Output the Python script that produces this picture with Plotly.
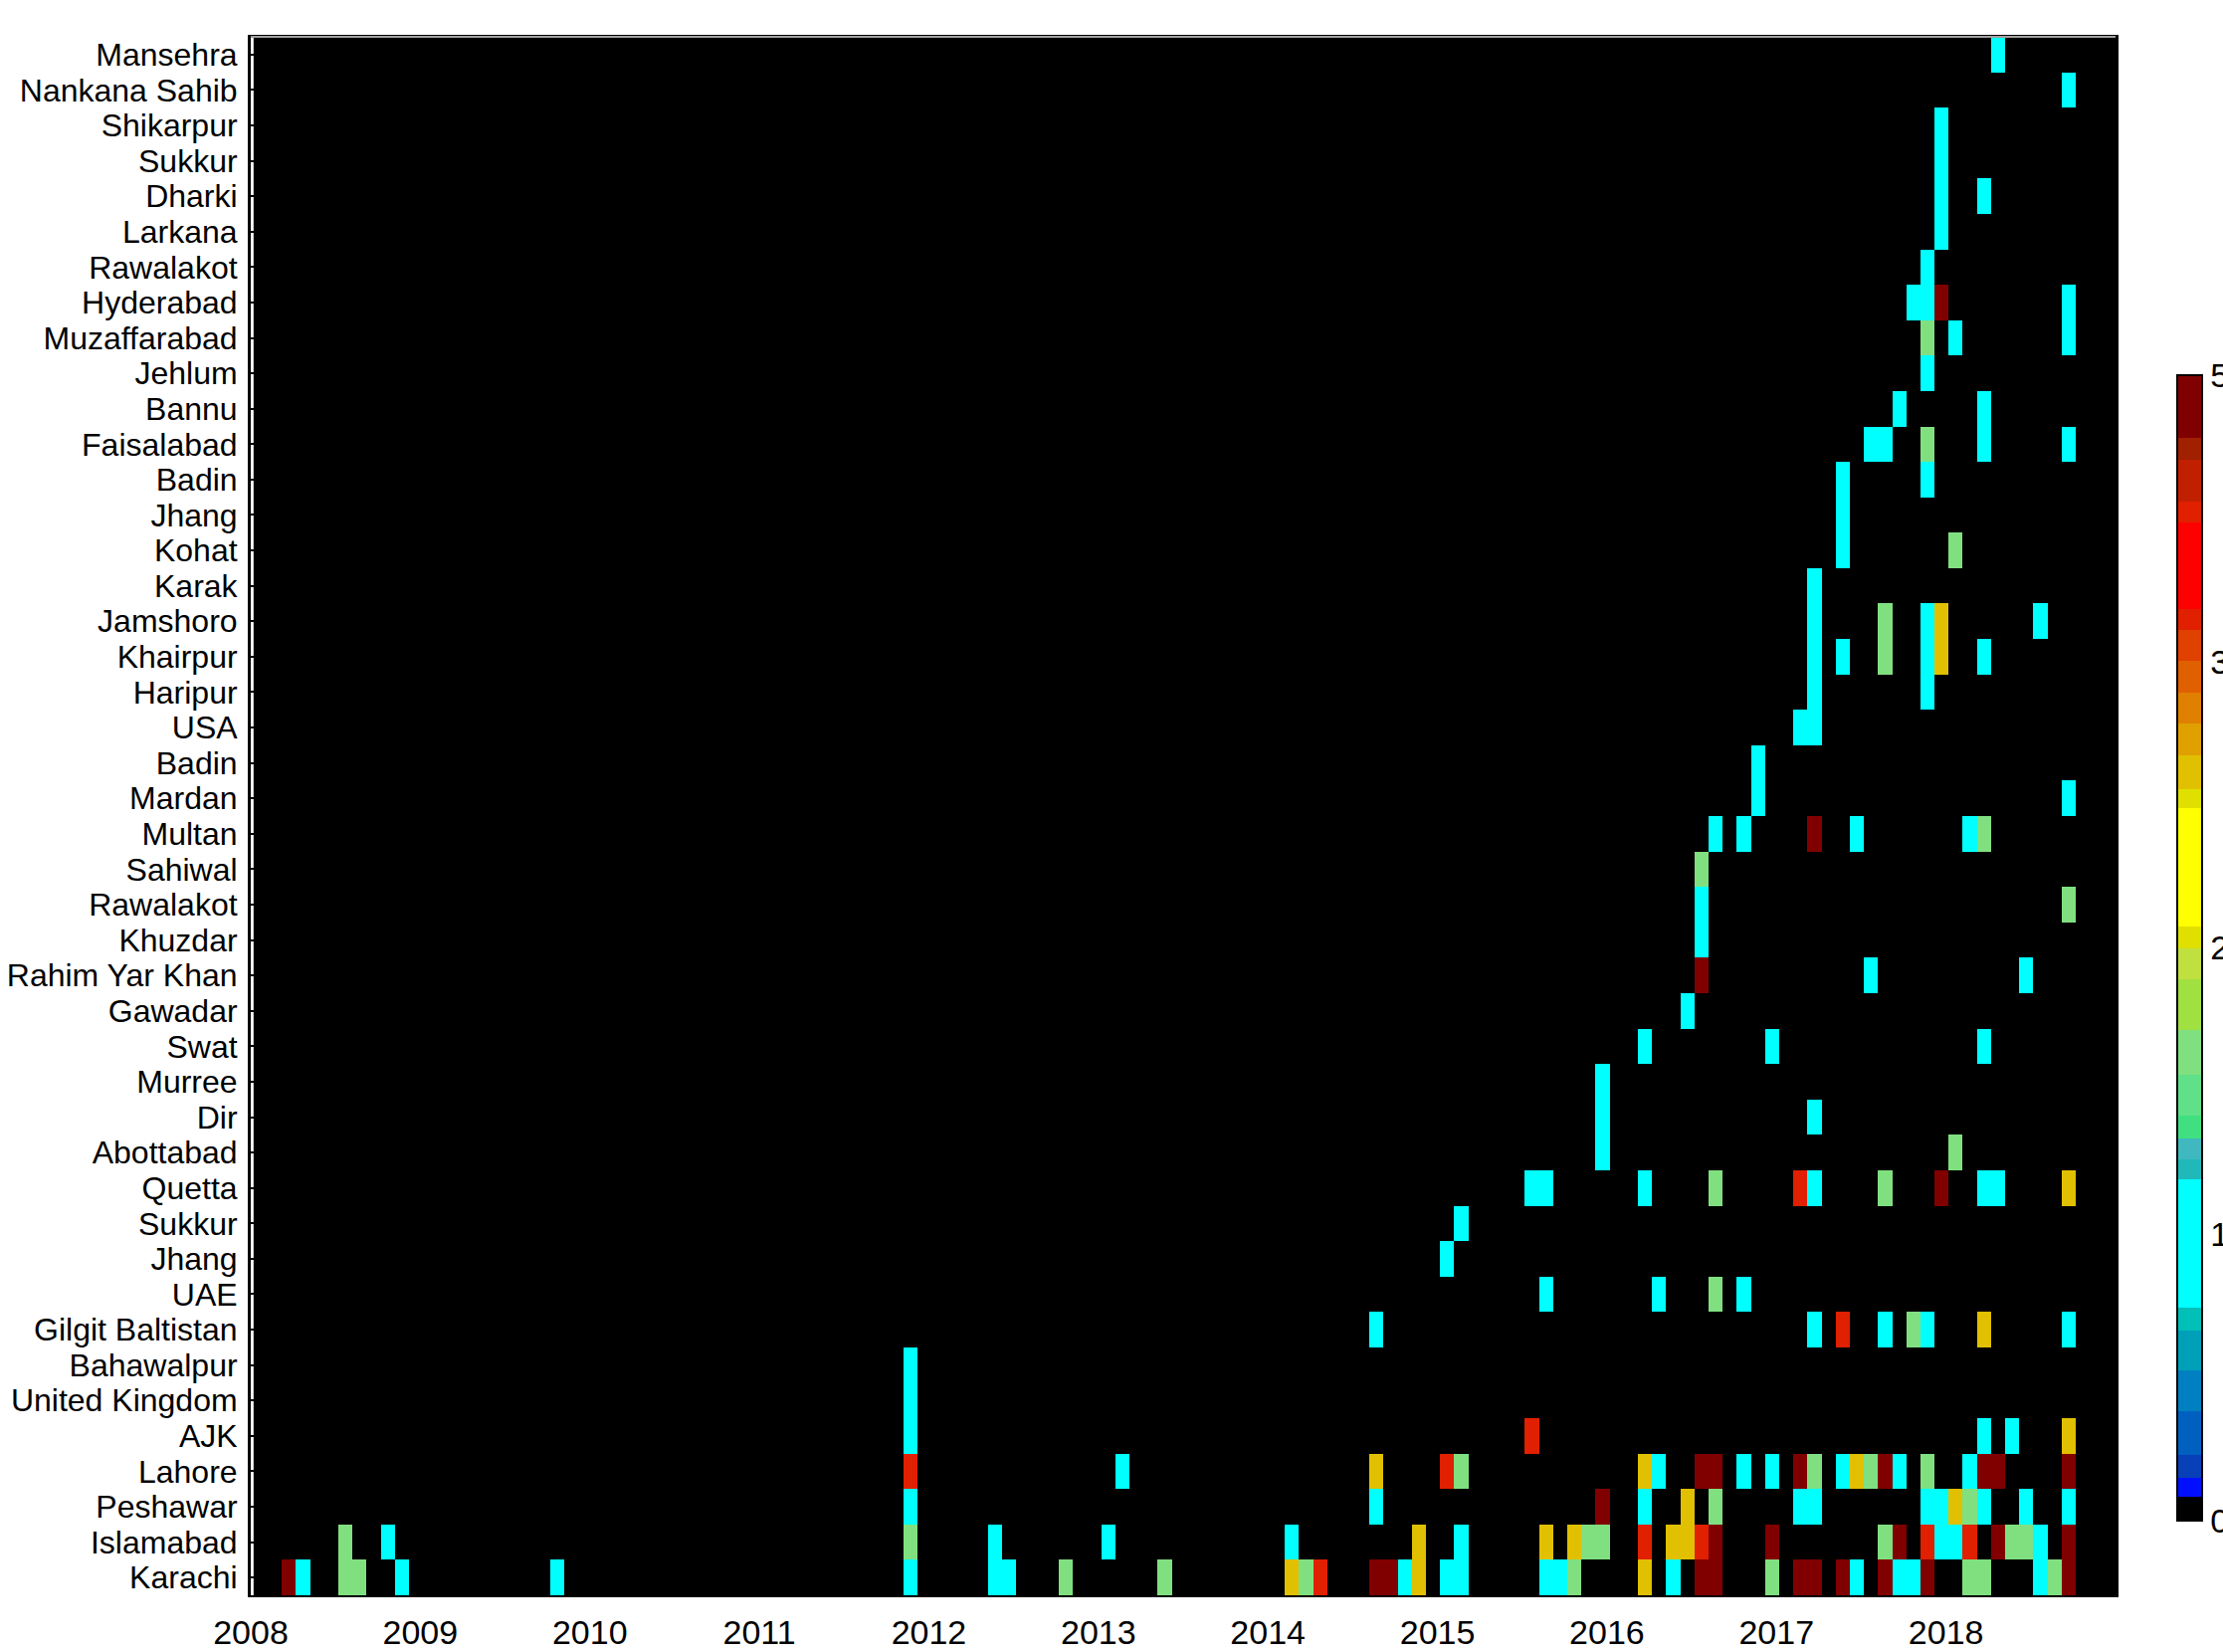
import numpy as np
import plotly.graph_objects as go

# Locations, listed top to bottom as they appear on the y axis
locations = [
    "Mansehra", "Nankana Sahib", "Shikarpur", "Sukkur", "Dharki", "Larkana",
    "Rawalakot", "Hyderabad", "Muzaffarabad", "Jehlum", "Bannu", "Faisalabad",
    "Badin", "Jhang", "Kohat", "Karak", "Jamshoro", "Khairpur", "Haripur", "USA",
    "Badin", "Mardan", "Multan", "Sahiwal", "Rawalakot", "Khuzdar",
    "Rahim Yar Khan", "Gawadar", "Swat", "Murree", "Dir", "Abottabad", "Quetta",
    "Sukkur", "Jhang", "UAE", "Gilgit Baltistan", "Bahawalpur", "United Kingdom",
    "AJK", "Lahore", "Peshawar", "Islamabad", "Karachi",
]

# Intensity levels used in the data
C, G, Y, R, D = 1.2, 2.05, 3.27, 3.94, 4.95

# Months since January 2008 with activity, one list per location (same order)
event_months = [
    [123],
    [128],
    [119],
    [119],
    [119, 122],
    [119],
    [118],
    [117, 118, 119, 128],
    [118, 120, 128],
    [118],
    [116, 122],
    [114, 115, 118, 122, 128],
    [112, 118],
    [112],
    [112, 120],
    [110],
    [110, 115, 118, 119, 126],
    [110, 112, 115, 118, 119, 122],
    [110, 118],
    [109, 110],
    [106],
    [106, 128],
    [103, 105, 110, 113, 121, 122],
    [102],
    [102, 128],
    [102],
    [102, 114, 125],
    [101],
    [98, 107, 122],
    [95],
    [95, 110],
    [95, 120],
    [90, 91, 98, 103, 109, 110, 115, 119, 122, 123, 128],
    [85],
    [84],
    [91, 99, 103, 105],
    [79, 110, 112, 115, 117, 118, 122, 128],
    [46],
    [46],
    [46, 90, 122, 124, 128],
    [46, 61, 79, 84, 85, 98, 99, 102, 103, 105, 107, 109, 110, 112, 113, 114,
     115, 116, 118, 121, 122, 123, 128],
    [46, 79, 95, 98, 101, 103, 109, 110, 118, 119, 120, 121, 122, 125, 128],
    [6, 9, 46, 52, 60, 73, 82, 85, 91, 93, 94, 95, 98, 100, 101, 102, 103, 107,
     115, 116, 118, 119, 120, 121, 123, 124, 125, 126, 128],
    [2, 3, 6, 7, 10, 21, 46, 52, 53, 57, 64, 73, 74, 75, 79, 80, 81, 82, 84, 85,
     91, 92, 93, 98, 100, 102, 103, 107, 109, 110, 112, 113, 115, 116, 117, 118,
     121, 122, 126, 127, 128],
]

event_levels = [
    [C],
    [C],
    [C],
    [C],
    [C, C],
    [C],
    [C],
    [C, C, D, C],
    [G, C, C],
    [C],
    [C, C],
    [C, C, G, C, C],
    [C, C],
    [C],
    [C, G],
    [C],
    [C, G, C, Y, C],
    [C, C, G, C, Y, C],
    [C, C],
    [C, C],
    [C],
    [C, C],
    [C, C, D, C, C, G],
    [G],
    [C, G],
    [C],
    [D, C, C],
    [C],
    [C, C, C],
    [C],
    [C, C],
    [C, G],
    [C, C, C, G, R, C, G, D, C, C, Y],
    [C],
    [C],
    [C, C, G, C],
    [C, C, R, C, G, C, Y, C],
    [C],
    [C],
    [C, R, C, C, Y],
    [R, C, Y, R, G, Y, C, D, D, C, C, D, G, C, Y, G, D, C, G, C, D, D, D],
    [C, C, D, C, Y, G, C, C, C, C, Y, G, C, C, C],
    [G, C, G, C, C, C, Y, C, Y, Y, G, G, R, Y, Y, R, D, D, G, D, R, C, C, R, D,
     G, G, C, D],
    [D, C, G, G, C, C, C, C, C, G, G, Y, G, R, D, D, C, Y, C, C, C, C, G, Y, C,
     D, D, G, D, D, D, C, D, C, C, D, G, G, C, G, D],
]

year_ticks = list(range(2008, 2019))
cbar_ticks = [0, 1.25, 2.5, 3.75, 5]

# Monthly bins start a fifth of a month after the calendar month
N_MONTHS = 133
BIN_OFFSET = 0.2
x_centers = 2008 + (np.arange(N_MONTHS) + BIN_OFFSET + 0.5) / 12.0

z = np.zeros((len(locations), N_MONTHS))
for row, (months, levels) in enumerate(zip(event_months, event_levels)):
    for m, v in zip(months, levels):
        z[row, m] = v

# Stepped jet-like colour map with black for zero
bands = [
    (0.000, 0.021, "#000000"),
    (0.021, 0.037, "#0010ff"),
    (0.037, 0.057, "#0840b8"),
    (0.057, 0.096, "#0060c0"),
    (0.096, 0.131, "#0080c0"),
    (0.131, 0.166, "#00a0b8"),
    (0.166, 0.186, "#00c0b8"),
    (0.186, 0.298, "#00ffff"),
    (0.298, 0.315, "#20b8b8"),
    (0.315, 0.334, "#40b8c0"),
    (0.334, 0.354, "#40e080"),
    (0.354, 0.389, "#60e088"),
    (0.389, 0.428, "#80e080"),
    (0.428, 0.473, "#a0e040"),
    (0.473, 0.500, "#c0e040"),
    (0.500, 0.519, "#e0e000"),
    (0.519, 0.622, "#ffff00"),
    (0.622, 0.639, "#e0e000"),
    (0.639, 0.668, "#e0c000"),
    (0.668, 0.696, "#e0a000"),
    (0.696, 0.723, "#e08000"),
    (0.723, 0.751, "#e06000"),
    (0.751, 0.778, "#e04000"),
    (0.778, 0.796, "#e02000"),
    (0.796, 0.871, "#ff0000"),
    (0.871, 0.890, "#e02000"),
    (0.890, 0.926, "#c02000"),
    (0.926, 0.945, "#a02000"),
    (0.945, 1.000, "#800000"),
]
colorscale = []
for lo, hi, col in bands:
    colorscale.append([lo, col])
    colorscale.append([hi, col])

W, H = 2234, 1660
ML, MR, MT, MB = 252, 108, 37, 57
plot_w = W - ML - MR
plot_h = H - MT - MB

cbar_left = 2188
cbar_top, cbar_bottom = 377, 1528
cbar_x = (cbar_left - ML) / plot_w
cbar_y = (H - MB - (cbar_top + cbar_bottom) / 2) / plot_h

tick_font = dict(family="Liberation Sans Narrow, Liberation Sans, Arial", size=34, color="black")

fig = go.Figure(
    go.Heatmap(
        z=z,
        x=x_centers,
        y=list(range(len(locations))),
        colorscale=colorscale,
        zmin=0,
        zmax=5,
        showscale=True,
        colorbar=dict(
            x=cbar_x,
            xanchor="left",
            xpad=0,
            y=cbar_y,
            yanchor="middle",
            ypad=0,
            len=cbar_bottom - cbar_top,
            lenmode="pixels",
            thickness=25,
            thicknessmode="pixels",
            outlinecolor="black",
            outlinewidth=2,
            borderwidth=0,
            tickvals=cbar_ticks,
            ticktext=[f"{t:g}" for t in cbar_ticks],
            ticks="",
            tickfont=tick_font,
        ),
        hoverongaps=False,
    )
)

fig.update_xaxes(
    range=[2008, 2019],
    tickvals=year_ticks,
    ticktext=[str(t) for t in year_ticks],
    tickfont=tick_font,
    ticks="",
    showline=True,
    linecolor="black",
    linewidth=2,
    mirror=True,
    showgrid=False,
    zeroline=False,
    ticklabelstandoff=6,
)
fig.update_yaxes(
    range=[len(locations) - 0.5, -0.5],
    tickvals=list(range(len(locations))),
    ticktext=locations,
    tickfont=dict(family="Liberation Sans, Arial", size=32, color="black"),
    ticks="inside",
    ticklen=5,
    tickwidth=2,
    tickcolor="black",
    showline=True,
    linecolor="black",
    linewidth=3,
    mirror=True,
    showgrid=False,
    zeroline=False,
    ticklabelstandoff=4,
)

# Thin grey frame line along the top of the plotting area
fig.add_shape(
    type="line", xref="paper", yref="paper", x0=0, x1=1, y0=1, y1=1,
    line=dict(color="#a0a0a0", width=2),
)

fig.update_layout(
    width=W,
    height=H,
    margin=dict(l=ML, r=MR, t=MT, b=MB, autoexpand=False),
    paper_bgcolor="white",
    plot_bgcolor="white",
    showlegend=False,
)

fig.write_html("out.html")
